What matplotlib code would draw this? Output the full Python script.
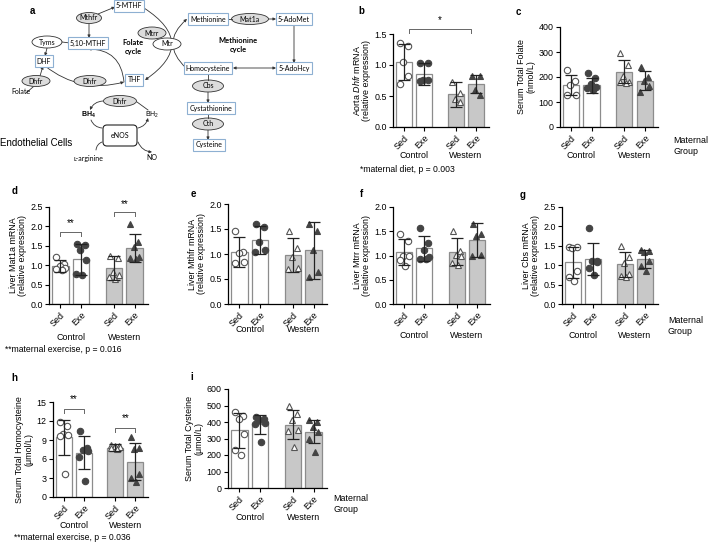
import numpy as np
import matplotlib
matplotlib.use('Agg')
import matplotlib.pyplot as plt
from matplotlib.patches import Ellipse, FancyBboxPatch, FancyArrowPatch

plt.rcParams['font.family'] = ['Liberation Sans', 'DejaVu Sans']
plt.rcParams['font.size'] = 6.4
plt.rcParams['mathtext.fontset'] = 'custom'
plt.rcParams['mathtext.rm'] = 'Liberation Sans'
plt.rcParams['mathtext.it'] = 'Liberation Sans:italic'
plt.rcParams['mathtext.bf'] = 'Liberation Sans:bold'

# ---- data ----
groups = ['Sed', 'Exe', 'Sed', 'Exe']
diets = ['Control', 'Western']

b_mean = [1.05, 0.86, 0.53, 0.69]
b_sd = [0.29, 0.18, 0.20, 0.145]
b_pts = [[1.35, 1.30, 1.05, 0.82, 0.70], [1.04, 1.03, 0.76, 0.76, 0.75],
         [0.72, 0.55, 0.45, 0.40], [0.83, 0.82, 0.60, 0.52]]

c_mean = [170, 168, 222, 185]
c_sd = [40, 30, 47, 38]
c_pts = [[229, 183, 167, 129, 127], [215, 195, 172, 162, 158, 150],
         [296, 247, 203, 182, 180, 178], [240, 200, 185, 165, 142]]

d_mean = [0.98, 1.15, 0.93, 1.45]
d_sd = [0.165, 0.39, 0.31, 0.36]
d_pts = [[1.20, 1.02, 0.97, 0.93, 0.90, 0.88], [1.55, 1.53, 1.38, 1.13, 0.77, 0.75],
         [1.25, 1.18, 0.82, 0.74, 0.70, 0.65], [2.05, 1.60, 1.48, 1.20, 1.18, 1.15]]

e_mean = [1.04, 1.29, 0.99, 1.08]
e_sd = [0.30, 0.28, 0.34, 0.57]
e_pts = [[1.47, 1.05, 1.02, 0.85, 0.82], [1.60, 1.55, 1.25, 1.08, 1.05],
         [1.47, 1.12, 0.95, 0.73, 0.70], [1.60, 1.47, 1.08, 0.65, 0.55]]

f_mean = [1.07, 1.15, 1.08, 1.31]
f_sd = [0.26, 0.26, 0.28, 0.35]
f_pts = [[1.45, 1.30, 1.00, 0.98, 0.90, 0.78], [1.57, 1.25, 1.12, 0.97, 0.93, 0.92],
         [1.50, 1.10, 1.02, 0.98, 0.85, 0.80], [1.65, 1.45, 1.40, 1.02, 0.98]]

g_mean = [1.07, 1.16, 1.02, 1.16]
g_sd = [0.40, 0.41, 0.32, 0.24]
g_pts = [[1.48, 1.46, 1.44, 0.85, 0.70, 0.60], [1.95, 1.12, 1.10, 1.08, 0.92, 0.75],
         [1.50, 1.20, 1.05, 0.78, 0.72, 0.70], [1.38, 1.36, 1.33, 1.10, 0.98, 0.85]]

h_mean = [9.4, 7.0, 7.8, 5.6]
h_sd = [2.8, 2.6, 0.5, 2.9]
h_pts = [[11.9, 11.2, 10.0, 9.8, 9.7, 3.7], [10.4, 7.8, 7.4, 7.2, 6.3, 2.5],
         [8.2, 8.1, 8.0, 7.9, 7.8, 7.6], [9.4, 7.7, 7.6, 3.7, 3.0, 2.3]]

i_mean = [350, 385, 382, 342]
i_sd = [105, 55, 88, 68]
i_pts = [[460, 438, 420, 330, 230, 200], [430, 420, 410, 395, 385, 280],
         [500, 450, 410, 350, 345, 250], [410, 400, 370, 340, 300, 220]]

# ---- figure ----
W, H = 709, 543
fig = plt.figure(figsize=(7.09, 5.43), dpi=100)


def pax(l, t, r, b):
    return fig.add_axes([l / W, 1 - b / H, (r - l) / W, (b - t) / H])


def ftext(x, y, s, **kw):
    fig.text(x / W, 1 - y / H, s, **kw)


# overlay axes in pixel units for the diagram
dax = fig.add_axes([0, 0, 1, 1])
dax.set_xlim(0, W)
dax.set_ylim(H, 0)
dax.axis('off')

dfam = ['Lato', 'DejaVu Sans']
dfs = 5


def box(x, y, s):
    dax.text(x, y, s, ha='center', va='center', fontsize=dfs, family=dfam,
             bbox=dict(boxstyle='square,pad=0.3', fc='white', ec='#8eb0d2', lw=0.8))


def oval(x, y, w, h, s, fc='#dcdcdc'):
    dax.add_patch(Ellipse((x, y), w, h, fc=fc, ec='#333333', lw=0.6))
    dax.text(x, y, s, ha='center', va='center', fontsize=dfs, family=dfam)


def arrow(p, q, rad=0.0, style='-|>'):
    dax.add_patch(FancyArrowPatch(p, q, arrowstyle=style, connectionstyle='arc3,rad=%s' % rad,
                                  mutation_scale=4, lw=0.6, color='#333333',
                                  shrinkA=0, shrinkB=0))


# lines / arrows first
arrow((144, 8), (145, 80), rad=-0.75)            # folate cycle right arc
arrow((124, 82), (88, 49), rad=0.45)             # THF -> 5,10-MTHF
arrow((98, 14), (115, 7))                        # Mthfr -> 5-MTHF
arrow((89, 24), (89, 38))                        # Mthfr -> 5,10-MTHF
arrow((47, 48), (45, 56))                        # Tyms -> DHF
dax.plot([62, 70], [42, 43], color='#333', lw=0.6)
arrow((40, 76), (43, 66))                        # Dhfr -> DHF
dax.plot([26, 33], [93, 87], color='#333', lw=0.6)
arrow((45, 66), (124, 82), rad=0.25)             # DHF -> THF
arrow((186, 68), (187, 19), rad=-0.55)           # Homocysteine -> Methionine
dax.plot([228, 232], [19, 19], color='#333', lw=0.6)
arrow((268, 19), (276, 19))                      # Mat1a -> 5-AdoMet
arrow((294, 24), (294, 63))                      # 5-AdoMet -> 5-AdoHcy
arrow((233, 68), (276, 68), style='<|-|>')       # Hcy <-> 5-AdoHcy
dax.plot([208, 208], [73, 80], color='#333', lw=0.6)
arrow((208, 92), (208, 103))                     # Cbs -> Cystathionine
dax.plot([208, 208], [113, 118], color='#333', lw=0.6)
arrow((208, 130), (208, 140))                    # Cth -> Cysteine
arrow((103, 101), (90, 110), rad=0.3)            # Dhfr -> BH4
dax.plot([137, 148], [102, 110], color='#333', lw=0.6)
arrow((91, 120), (102, 128), rad=0.3, style='-')
arrow((138, 128), (148, 118), rad=0.3)           # eNOS -> BH2
arrow((96, 150), (102, 142), rad=-0.3, style='-')
arrow((138, 142), (152, 152), rad=0.3)           # eNOS -> NO

box(129, 6, '5-MTHF')
box(88, 43, '5,10-MTHF')
box(44, 61, 'DHF')
box(134, 80, 'THF')
box(208, 19, 'Methionine')
box(294, 19, '5-AdoMet')
box(208, 68, 'Homocysteine')
box(294, 68, '5-AdoHcy')
box(211, 108, 'Cystathionine')
box(209, 145, 'Cysteine')

oval(89, 18, 25, 11, 'Mthfr')
oval(47, 42, 30, 12, 'Tyms', fc='white')
oval(152, 33, 28, 12, 'Mtrr')
oval(167, 44, 28, 12, 'Mtr', fc='white')
oval(36, 81, 28, 11, 'Dhfr')
oval(90, 81, 32, 11, 'Dhfr')
oval(120, 101, 33, 11, 'Dhfr')
oval(250, 19, 37, 11, 'Mat1a')
oval(208, 86, 31, 12, 'Cbs')
oval(208, 124, 31, 12, 'Cth')

dax.add_patch(FancyBboxPatch((103, 125), 34, 21, boxstyle='round,pad=0,rounding_size=4',
                             fc='white', ec='#222222', lw=0.8))
dax.text(120, 135.5, 'eNOS', ha='center', va='center', fontsize=dfs, family=dfam)
dax.text(133, 47, 'Folate\ncycle', ha='center', va='center', fontsize=5.4, family=dfam,
         weight='bold', linespacing=1.3)
dax.text(238, 45, 'Methionine\ncycle', ha='center', va='center', fontsize=5.4, family=dfam,
         weight='bold', linespacing=1.3)
dax.text(88, 115, r'$\mathbf{BH_4}$', ha='center', va='center', fontsize=dfs)
dax.text(152, 115, r'BH$_2$', ha='center', va='center', fontsize=dfs)
dax.text(21, 92, 'Folate', ha='center', va='center', fontsize=dfs, family=dfam)
dax.text(88, 158, '\u029f-arginine', ha='center', va='center', fontsize=dfs, family=dfam)
dax.text(152, 158, 'NO', ha='center', va='center', fontsize=dfs, family=dfam)
dax.text(0, 143, 'Endothelial Cells', ha='left', va='center', fontsize=7)

# ---- bar panels ----
pos = np.array([0, 1, 2.6, 3.6])
bar_fc = ['white', 'white', '#c8c8c8', '#c8c8c8']
mk = ['o', 'o', '^', '^']
mk_fc = ['white', '#444444', 'white', '#444444']
mk_ec = ['#555555', '#444444', '#555555', '#444444']
jit = [-0.2, 0.18, -0.04, 0.22, -0.22, 0.06]


def bar_panel(box_px, means, sds, pts, ymax, ystep, ylabel, fmt, glab_off):
    ax = pax(*box_px)
    ax.patch.set_alpha(0)
    ax.bar(pos, means, width=0.8, color=bar_fc, edgecolor='#8c8c8c', linewidth=0.9, zorder=1)
    for k in range(4):
        xs = pos[k] + np.array(jit[:len(pts[k])])
        ax.plot(xs, pts[k], linestyle='none', marker=mk[k], ms=4.6, mfc=mk_fc[k],
                mec=mk_ec[k], mew=0.8, zorder=3, clip_on=False)
    ax.errorbar(pos, means, yerr=sds, fmt='none', ecolor='#222222', elinewidth=0.9,
                capsize=4.5, capthick=0.9, zorder=4)
    ax.set_xlim(-0.55, 4.25)
    ax.set_ylim(0, ymax)
    ticks = np.arange(0, ymax + ystep / 2, ystep)
    ax.set_yticks(ticks)
    ax.set_yticklabels([fmt % t for t in ticks])
    ax.set_xticks(pos)
    ax.set_xticklabels(groups, rotation=45, ha='right', rotation_mode='anchor')
    for s in ['top', 'right']:
        ax.spines[s].set_visible(False)
    for s in ['left', 'bottom']:
        ax.spines[s].set_linewidth(0.9)
    ax.tick_params(length=3, width=0.8, pad=1.5)
    ax.set_ylabel(ylabel, linespacing=1.1, labelpad=2)
    for cx, dname in zip([0.5, 3.1], diets):
        ax.annotate(dname, xy=(cx, 0), xycoords=('data', 'axes fraction'),
                    xytext=(0, -glab_off * 0.72), textcoords='offset points',
                    ha='center', va='center', annotation_clip=False)
    return ax


def bracket(ax, x1, x2, y, h, txt, ty):
    ax.plot([x1, x1, x2, x2], [y - h, y, y, y - h], color='#666666', lw=0.7, clip_on=False)
    ax.text((x1 + x2) / 2, ty, txt, ha='center', va='center', fontsize=7, clip_on=False)


ax_b = bar_panel((393, 34, 489, 127), b_mean, b_sd, b_pts, 1.5, 0.5,
                 'Aorta $\\it{Dhfr}$ mRNA\n(relative expression)', '%.1f', 29)
bracket(ax_b, 0.25, 3.35, 1.58, 0.06, '*', 1.72)

ax_c = bar_panel((560, 27, 658, 127), c_mean, c_sd, c_pts, 400, 100,
                 'Serum Total Folate\n(nmol/L)', '%d', 29)

ax_d = bar_panel((49, 207, 148, 304), d_mean, d_sd, d_pts, 2.5, 0.5,
                 'Liver Mat1a mRNA\n(relative expression)', '%.1f', 33)
bracket(ax_d, 0, 1, 1.86, 0.11, '**', 2.09)
bracket(ax_d, 2.6, 3.6, 2.37, 0.11, '**', 2.58)

ax_e = bar_panel((228, 204, 327, 304), e_mean, e_sd, e_pts, 2.0, 0.5,
                 'Liver Mthfr mRNA\n(relative expression)', '%.1f', 26)

ax_f = bar_panel((393, 207, 490, 304), f_mean, f_sd, f_pts, 2.0, 0.5,
                 'Liver Mtrr mRNA\n(relative expression)', '%.1f', 32)

ax_g = bar_panel((562, 207, 658, 304), g_mean, g_sd, g_pts, 2.5, 0.5,
                 'Liver Cbs mRNA\n(relative expression)', '%.1f', 32)

ax_h = bar_panel((53, 402, 148, 497), h_mean, h_sd, h_pts, 15, 3,
                 'Serum Total Homocysteine\n(\u03bcmol/L)', '%d', 28)
bracket(ax_h, 0, 1, 13.9, 0.6, '**', 15.4)
bracket(ax_h, 2.6, 3.6, 10.9, 0.6, '**', 12.4)

ax_i = bar_panel((228, 389, 327, 488), i_mean, i_sd, i_pts, 600, 100,
                 'Serum Total Cysteine\n(\u03bcmol/L)', '%d', 29)

# ---- annotations ----
for lab, x, y in [('a', 32, 11), ('b', 361, 11), ('c', 518, 12), ('d', 15, 191),
                  ('e', 193, 194), ('f', 362, 194), ('g', 523, 195), ('h', 14, 378),
                  ('i', 192, 377)]:
    ftext(x, y, lab, ha='center', va='center', fontsize=7, weight='bold')

ftext(360, 169, '*maternal diet, p = 0.003', ha='left', va='center', fontsize=6.2)
ftext(5, 350, '**maternal exercise, p = 0.016', ha='left', va='center', fontsize=6.2)
ftext(14, 538, '**maternal exercise, p = 0.036', ha='left', va='center', fontsize=6.2)

for x, y in [(673, 146), (668, 326), (333, 504)]:
    ftext(x, y, 'Maternal\nGroup', ha='left', va='center', fontsize=6.4, linespacing=1.2)

fig.savefig('out.png', dpi=100)
